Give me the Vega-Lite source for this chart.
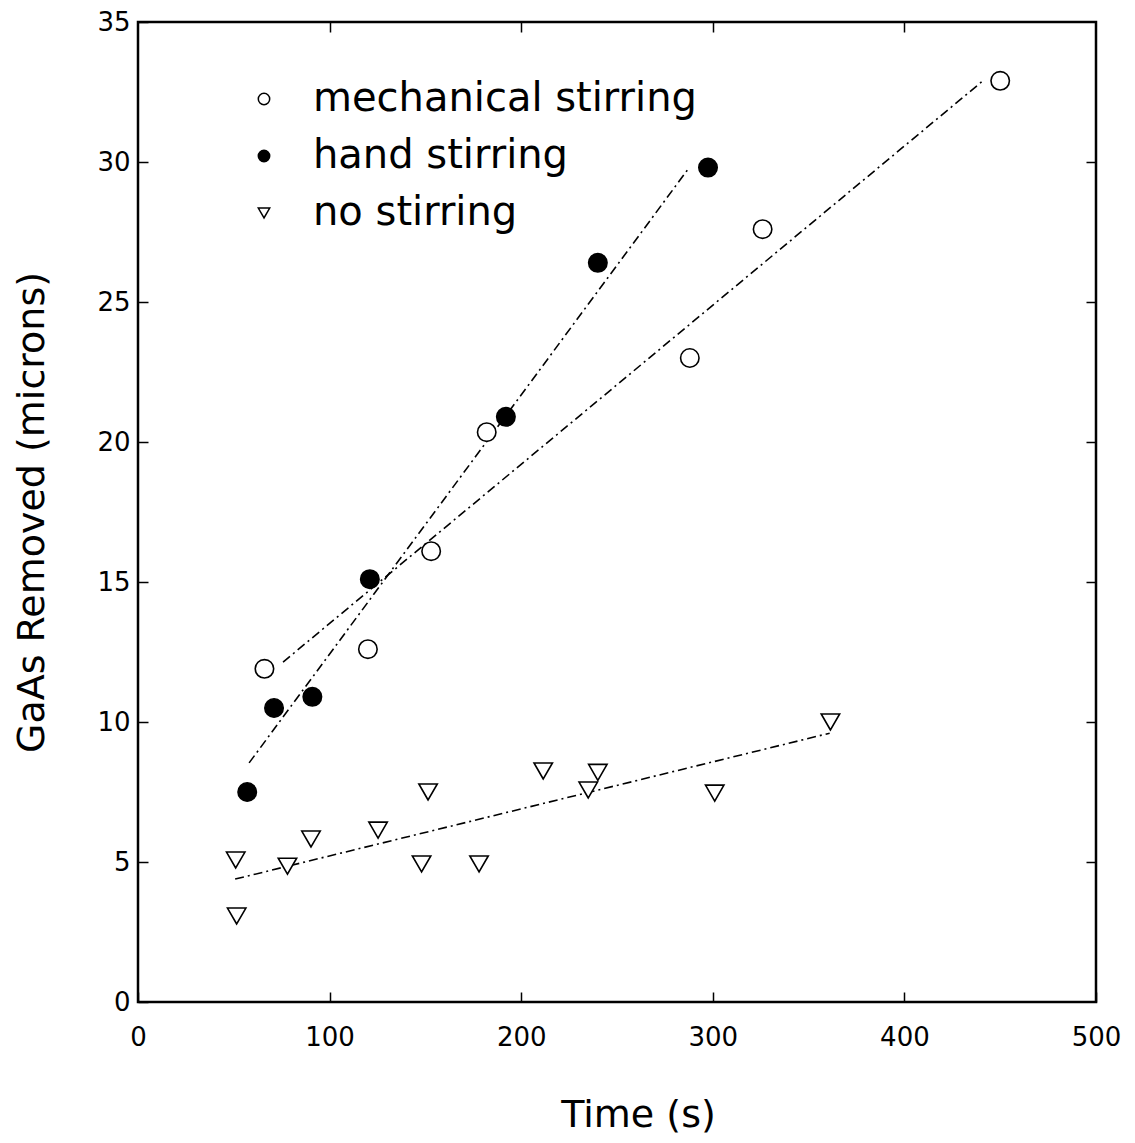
{
  "$schema": "https://vega.github.io/schema/vega-lite/v6.json",
  "width": 958,
  "height": 980,
  "autosize": {"type": "none"},
  "padding": {"left": 138, "top": 22, "right": 39, "bottom": 141},
  "background": "white",
  "config": {
    "view": {"stroke": "black", "strokeWidth": 2.5},
    "font": "DejaVu Sans",
    "axis": {"grid": false, "domain": false, "tickColor": "black", "labelColor": "black", "titleColor": "black", "labelFont": "DejaVu Sans", "titleFont": "DejaVu Sans", "labelFontWeight": "normal", "titleFontWeight": "normal"},
    "legend": {"labelFont": "DejaVu Sans", "labelColor": "black", "labelFontSize": 40, "labelLimit": 0}
  },
  "datasets": {
    "points": [
      {"series": "mechanical stirring", "time": 66, "removed": 11.9},
      {"series": "mechanical stirring", "time": 120, "removed": 12.6},
      {"series": "mechanical stirring", "time": 153, "removed": 16.1},
      {"series": "mechanical stirring", "time": 182, "removed": 20.35},
      {"series": "mechanical stirring", "time": 288, "removed": 23.0},
      {"series": "mechanical stirring", "time": 326, "removed": 27.6},
      {"series": "mechanical stirring", "time": 450, "removed": 32.9},
      {"series": "hand stirring", "time": 57, "removed": 7.5},
      {"series": "hand stirring", "time": 71, "removed": 10.5},
      {"series": "hand stirring", "time": 91, "removed": 10.9},
      {"series": "hand stirring", "time": 121, "removed": 15.1},
      {"series": "hand stirring", "time": 192, "removed": 20.9},
      {"series": "hand stirring", "time": 240, "removed": 26.4},
      {"series": "hand stirring", "time": 297.5, "removed": 29.8},
      {"series": "no stirring", "time": 51, "removed": 5.07},
      {"series": "no stirring", "time": 51.5, "removed": 3.07},
      {"series": "no stirring", "time": 78, "removed": 4.85},
      {"series": "no stirring", "time": 90.3, "removed": 5.82},
      {"series": "no stirring", "time": 125.3, "removed": 6.14},
      {"series": "no stirring", "time": 151.4, "removed": 7.5},
      {"series": "no stirring", "time": 148, "removed": 4.93},
      {"series": "no stirring", "time": 178, "removed": 4.93},
      {"series": "no stirring", "time": 211.5, "removed": 8.25},
      {"series": "no stirring", "time": 235, "removed": 7.57},
      {"series": "no stirring", "time": 240, "removed": 8.2},
      {"series": "no stirring", "time": 301, "removed": 7.46},
      {"series": "no stirring", "time": 361.4, "removed": 10.0}
    ],
    "fits": [
      {"series": "mechanical stirring", "time": 75.7, "removed": 12.14},
      {"series": "mechanical stirring", "time": 441, "removed": 32.9},
      {"series": "hand stirring", "time": 58, "removed": 8.54},
      {"series": "hand stirring", "time": 287.7, "removed": 29.8},
      {"series": "no stirring", "time": 50.7, "removed": 4.39},
      {"series": "no stirring", "time": 361, "removed": 9.6}
    ]
  },
  "layer": [
    {
      "data": {"name": "fits"},
      "mark": {"type": "line", "color": "black", "strokeWidth": 1.6, "strokeDash": [9, 4, 2, 4]},
      "encoding": {
        "x": {"field": "time", "type": "quantitative", "scale": {"domain": [0, 500], "nice": false},
          "axis": {"orient": "top", "labels": false, "title": null, "values": [100, 200, 300, 400], "tickSize": -10, "tickWidth": 1.5}},
        "y": {"field": "removed", "type": "quantitative", "scale": {"domain": [0, 35], "nice": false},
          "axis": {"orient": "right", "labels": false, "title": null, "values": [5, 10, 15, 20, 25, 30], "tickSize": -10, "tickWidth": 1.5}},
        "detail": {"field": "series"}
      }
    },
    {
      "data": {"name": "points"},
      "mark": {"type": "point", "stroke": "black", "strokeWidth": 1.6, "filled": false, "opacity": 1, "size": 340},
      "encoding": {
        "x": {"field": "time", "type": "quantitative",
          "axis": {"orient": "bottom", "title": "Time (s)", "values": [0, 100, 200, 300, 400, 500], "tickSize": -10, "tickWidth": 1.5, "labelFontSize": 26, "labelPadding": 32, "labelFlush": false, "labelOverlap": false, "titleFontSize": 38, "titlePadding": 46, "titleX": 500}},
        "y": {"field": "removed", "type": "quantitative",
          "axis": {"orient": "left", "title": "GaAs Removed (microns)", "values": [0, 5, 10, 15, 20, 25, 30, 35], "tickSize": -10, "tickWidth": 1.5, "labelFontSize": 26, "labelPadding": 18, "labelFlush": false, "labelOverlap": false, "titleFontSize": 38, "titlePadding": 45}},
        "shape": {"field": "series", "type": "nominal",
          "scale": {"domain": ["mechanical stirring", "hand stirring", "no stirring"], "range": ["circle", "circle", "triangle-down"]},
          "legend": {"title": null, "orient": "none", "legendX": 106, "legendY": 57, "symbolSize": 130, "labelOffset": 29, "rowPadding": 17, "padding": 0,
            "encode": {"symbols": {"update": {"stroke": {"value": "black"}, "strokeWidth": {"value": 1.5}, "opacity": {"value": 1}}}}}},
        "fill": {"field": "series", "type": "nominal",
          "scale": {"domain": ["mechanical stirring", "hand stirring", "no stirring"], "range": ["white", "black", "white"]},
          "legend": {"title": null, "orient": "none", "legendX": 106, "legendY": 57, "symbolSize": 130, "labelOffset": 29, "rowPadding": 17, "padding": 0,
            "encode": {"symbols": {"update": {"stroke": {"value": "black"}, "strokeWidth": {"value": 1.5}, "opacity": {"value": 1}}}}}}
      }
    }
  ],
  "resolve": {"axis": {"x": "independent", "y": "independent"}}
}
